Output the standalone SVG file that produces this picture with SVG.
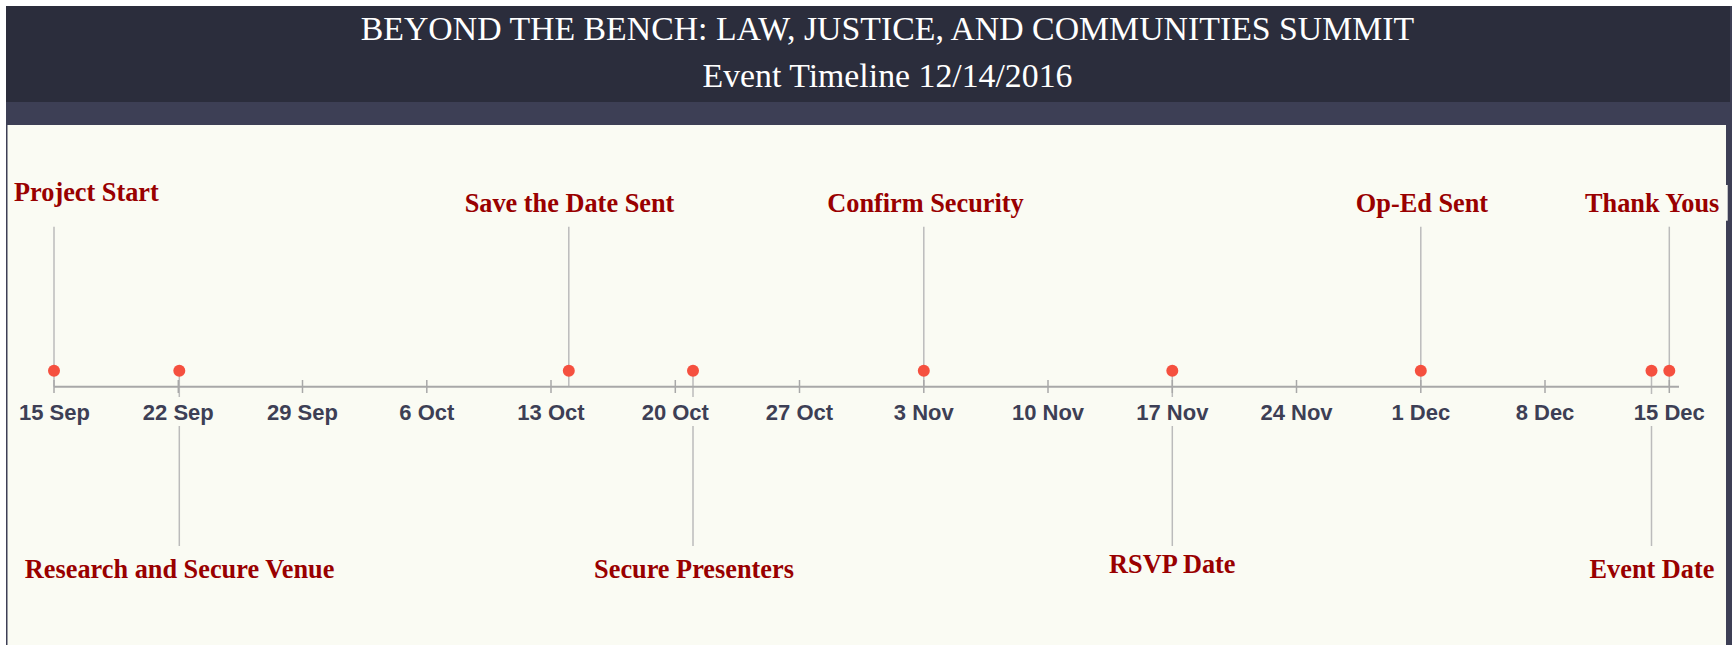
<svg xmlns="http://www.w3.org/2000/svg" width="1732" height="645" viewBox="0 0 1732 645">
<style>
.title{font-family:"Liberation Serif","Times New Roman",serif;font-size:33.8px;fill:#ffffff;text-anchor:middle}
.lbl{font-family:"Liberation Serif","Times New Roman",serif;font-weight:bold;font-size:26.3px;fill:#990000;text-anchor:middle}
.tick{font-family:"Liberation Sans",Arial,sans-serif;font-weight:bold;font-size:22px;fill:#3d3f55;text-anchor:middle}
.box{fill:#fafbf3}
.conn{stroke:#bbbbbb;stroke-width:1.5;fill:none}
.axis{stroke:#a8a8a8;stroke-width:2;fill:none}
.tk{stroke:#a8a8a8;stroke-width:1.5}
.dot{fill:#f5503f}
</style>
<rect x="0" y="0" width="1732" height="645" fill="#ffffff"/>
<rect x="6" y="6" width="1726" height="639" fill="#3d3f55"/>
<rect x="6" y="6" width="1724" height="96" fill="#2b2d3c"/>
<rect x="7.5" y="125" width="1718.5" height="520" fill="#fafbf3"/>
<g id="header">
<text class="title" x="887.5" y="40">BEYOND THE BENCH: LAW, JUSTICE, AND COMMUNITIES SUMMIT</text>
<text class="title" x="887.5" y="87.3">Event Timeline 12/14/2016</text>
</g>
<g id="connectors">
<line class="conn" x1="54" y1="226.7" x2="54" y2="386.7"/>
<line class="conn" x1="179.3" y1="370.7" x2="179.3" y2="546"/>
<line class="conn" x1="568.8" y1="226.7" x2="568.8" y2="386.7"/>
<line class="conn" x1="693" y1="370.7" x2="693" y2="546"/>
<line class="conn" x1="923.8" y1="226.7" x2="923.8" y2="386.7"/>
<line class="conn" x1="1172.3" y1="370.7" x2="1172.3" y2="546"/>
<line class="conn" x1="1420.8" y1="226.7" x2="1420.8" y2="386.7"/>
<line class="conn" x1="1651.5" y1="370.7" x2="1651.5" y2="546"/>
<line class="conn" x1="1669.3" y1="226.7" x2="1669.3" y2="386.7"/>
</g>
<g id="axis">
<line class="axis" x1="54" y1="386.7" x2="1679" y2="386.7"/>
<line class="tk" x1="54" y1="380" x2="54" y2="393"/>
<line class="tk" x1="178.3" y1="380" x2="178.3" y2="393"/>
<line class="tk" x1="302.5" y1="380" x2="302.5" y2="393"/>
<line class="tk" x1="426.8" y1="380" x2="426.8" y2="393"/>
<line class="tk" x1="551" y1="380" x2="551" y2="393"/>
<line class="tk" x1="675.3" y1="380" x2="675.3" y2="393"/>
<line class="tk" x1="799.5" y1="380" x2="799.5" y2="393"/>
<line class="tk" x1="923.8" y1="380" x2="923.8" y2="393"/>
<line class="tk" x1="1048" y1="380" x2="1048" y2="393"/>
<line class="tk" x1="1172.3" y1="380" x2="1172.3" y2="393"/>
<line class="tk" x1="1296.5" y1="380" x2="1296.5" y2="393"/>
<line class="tk" x1="1420.8" y1="380" x2="1420.8" y2="393"/>
<line class="tk" x1="1545" y1="380" x2="1545" y2="393"/>
<line class="tk" x1="1669.3" y1="380" x2="1669.3" y2="393"/>
</g>
<g id="tick-labels">
<rect class="box" x="140" y="397" width="78" height="29"/>
<rect class="box" x="638" y="397" width="75" height="29"/>
<rect class="box" x="1133" y="397" width="79" height="29"/>
<rect class="box" x="1630" y="394" width="79" height="32"/>
<text class="tick" x="54.5" y="420">15 Sep</text>
<text class="tick" x="178.3" y="420">22 Sep</text>
<text class="tick" x="302.5" y="420">29 Sep</text>
<text class="tick" x="426.8" y="420">6 Oct</text>
<text class="tick" x="551" y="420">13 Oct</text>
<text class="tick" x="675.3" y="420">20 Oct</text>
<text class="tick" x="799.5" y="420">27 Oct</text>
<text class="tick" x="923.8" y="420">3 Nov</text>
<text class="tick" x="1048" y="420">10 Nov</text>
<text class="tick" x="1172.3" y="420">17 Nov</text>
<text class="tick" x="1296.5" y="420">24 Nov</text>
<text class="tick" x="1420.8" y="420">1 Dec</text>
<text class="tick" x="1545" y="420">8 Dec</text>
<text class="tick" x="1669.3" y="420">15 Dec</text>
</g>
<g id="ev-project-start"><circle class="dot" cx="54" cy="370.7" r="6"/><text class="lbl" x="14" y="200.7" style="text-anchor:start">Project Start</text></g>
<g id="ev-research-venue"><circle class="dot" cx="179.3" cy="370.7" r="6"/><text class="lbl" x="179.6" y="578.3">Research and Secure Venue</text></g>
<g id="ev-save-the-date"><circle class="dot" cx="568.8" cy="370.7" r="6"/><text class="lbl" x="569.5" y="211.7">Save the Date Sent</text></g>
<g id="ev-secure-presenters"><circle class="dot" cx="693" cy="370.7" r="6"/><text class="lbl" x="694" y="578.3">Secure Presenters</text></g>
<g id="ev-confirm-security"><circle class="dot" cx="923.8" cy="370.7" r="6"/><text class="lbl" x="925.5" y="211.7">Confirm Security</text></g>
<g id="ev-rsvp"><circle class="dot" cx="1172.3" cy="370.7" r="6"/><text class="lbl" x="1172.3" y="573.3">RSVP Date</text></g>
<g id="ev-op-ed"><circle class="dot" cx="1420.8" cy="370.7" r="6"/><text class="lbl" x="1422" y="211.7">Op-Ed Sent</text></g>
<g id="ev-event-date"><circle class="dot" cx="1651.5" cy="370.7" r="6"/><text class="lbl" x="1652" y="578.3">Event Date</text></g>
<g id="ev-thank-yous"><rect class="box" x="1587" y="185" width="140.7" height="35.7"/><circle class="dot" cx="1669.3" cy="370.7" r="6"/><text class="lbl" x="1719.3" y="211.7" style="text-anchor:end">Thank Yous</text></g>
</svg>
